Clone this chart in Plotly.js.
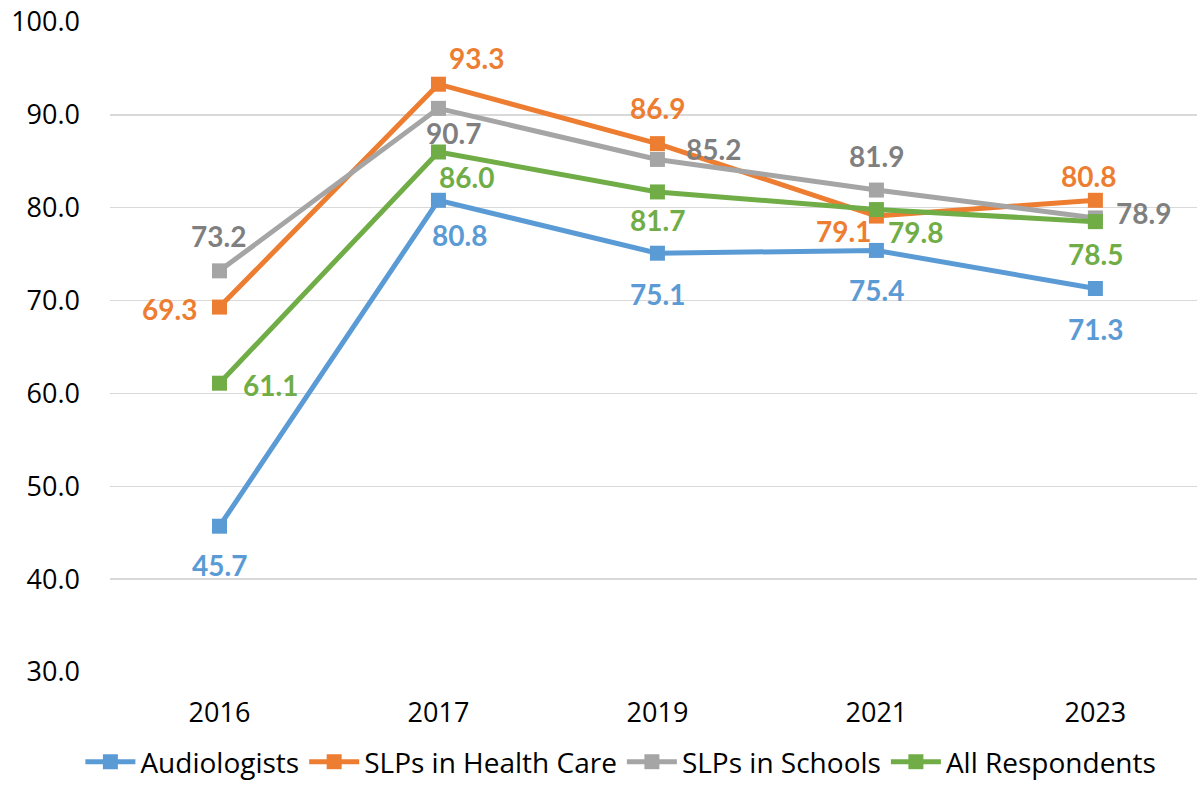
<!DOCTYPE html>
<html>
<head>
<meta charset="utf-8">
<script src="https://cdn.plot.ly/plotly-3.0.1.min.js"></script>
<style>html,body{margin:0;padding:0;background:#fff;}#chart{width:1197px;height:788px;}</style>
</head>
<body>
<div id="chart"></div>
<script>
const years = ["2016", "2017", "2019", "2021", "2023"];
const audiologists = [45.7, 80.8, 75.1, 75.4, 71.3];
const slpHealthCare = [69.3, 93.3, 86.9, 79.1, 80.8];
const slpSchools = [73.2, 90.7, 85.2, 81.9, 78.9];
const allRespondents = [61.1, 86.0, 81.7, 79.8, 78.5];
const seriesNames = ["Audiologists", "SLPs in Health Care", "SLPs in Schools", "All Respondents"];
const yTicks = [30, 40, 50, 60, 70, 80, 90, 100];

const LABEL_FONT = "Lato, 'Open Sans', sans-serif";
const TICK_FONT = "'Open Sans', Lato, sans-serif";
const series = [audiologists, slpHealthCare, slpSchools, allRespondents];
const lineColors = ["#5B9BD5", "#ED7D31", "#A5A5A5", "#70AD47"];
const labelColors = ["#5B9BD5", "#ED7D31", "#7F7F7F", "#70AD47"];
// label pixel offsets [dx, dy(down positive)] per series per point
const offsets = [
  [[0, 39], [21, 35], [0, 41], [0, 40], [0, 40]],
  [[-50, 2], [38, -26], [0, -36], [-33, 15], [-7, -24]],
  [[-1, -35], [15, 25], [56, -10], [0, -34], [48, -5]],
  [[51, 2], [28, 25], [0, 28], [39, 22], [0, 32]]
];

const traces = series.map((vals, i) => ({
  type: "scatter",
  mode: "lines+markers",
  name: seriesNames[i],
  x: years,
  y: vals,
  line: {color: lineColors[i], width: 5},
  marker: {symbol: "square", size: 15, color: lineColors[i]},
  hoverinfo: "skip"
}));

const annotations = [];
series.forEach((vals, i) => {
  vals.forEach((v, j) => {
    annotations.push({
      x: j, y: v, xref: "x", yref: "y",
      text: "<b>" + v.toFixed(1) + "</b>",
      showarrow: false,
      xanchor: "center", yanchor: "middle",
      xshift: offsets[i][j][0], yshift: -offsets[i][j][1],
      font: {family: LABEL_FONT, size: 28, color: labelColors[i]}
    });
  });
});

const layout = {
  width: 1197, height: 788,
  margin: {l: 110, r: 0, t: 22, b: 116, autoexpand: false},
  paper_bgcolor: "#fff", plot_bgcolor: "#fff",
  showlegend: true,
  legend: {
    orientation: "h", x: 0.47, xanchor: "center", y: -0.1, yanchor: "top",
    font: {family: TICK_FONT, size: 28, color: "#000"},
    itemwidth: 50, tracegroupgap: 0
  },
  xaxis: {
    type: "category",
    range: [-0.5, 4.464],
    showgrid: false, zeroline: false, showline: false,
    ticks: "", ticklabelstandoff: 22,
    tickfont: {family: TICK_FONT, size: 27, color: "#000"}
  },
  yaxis: {
    range: [30, 100],
    tickvals: yTicks,
    ticktext: yTicks.map(v => v.toFixed(1)),
    showgrid: true, gridcolor: "#D9D9D9", gridwidth: 1.5,
    zeroline: false, showline: false, ticks: "",
    ticklabelstandoff: 29,
    tickfont: {family: TICK_FONT, size: 27, color: "#000"}
  },
  annotations: annotations
};

Plotly.newPlot("chart", traces, layout, {displayModeBar: false, staticPlot: true});
</script>
</body>
</html>
